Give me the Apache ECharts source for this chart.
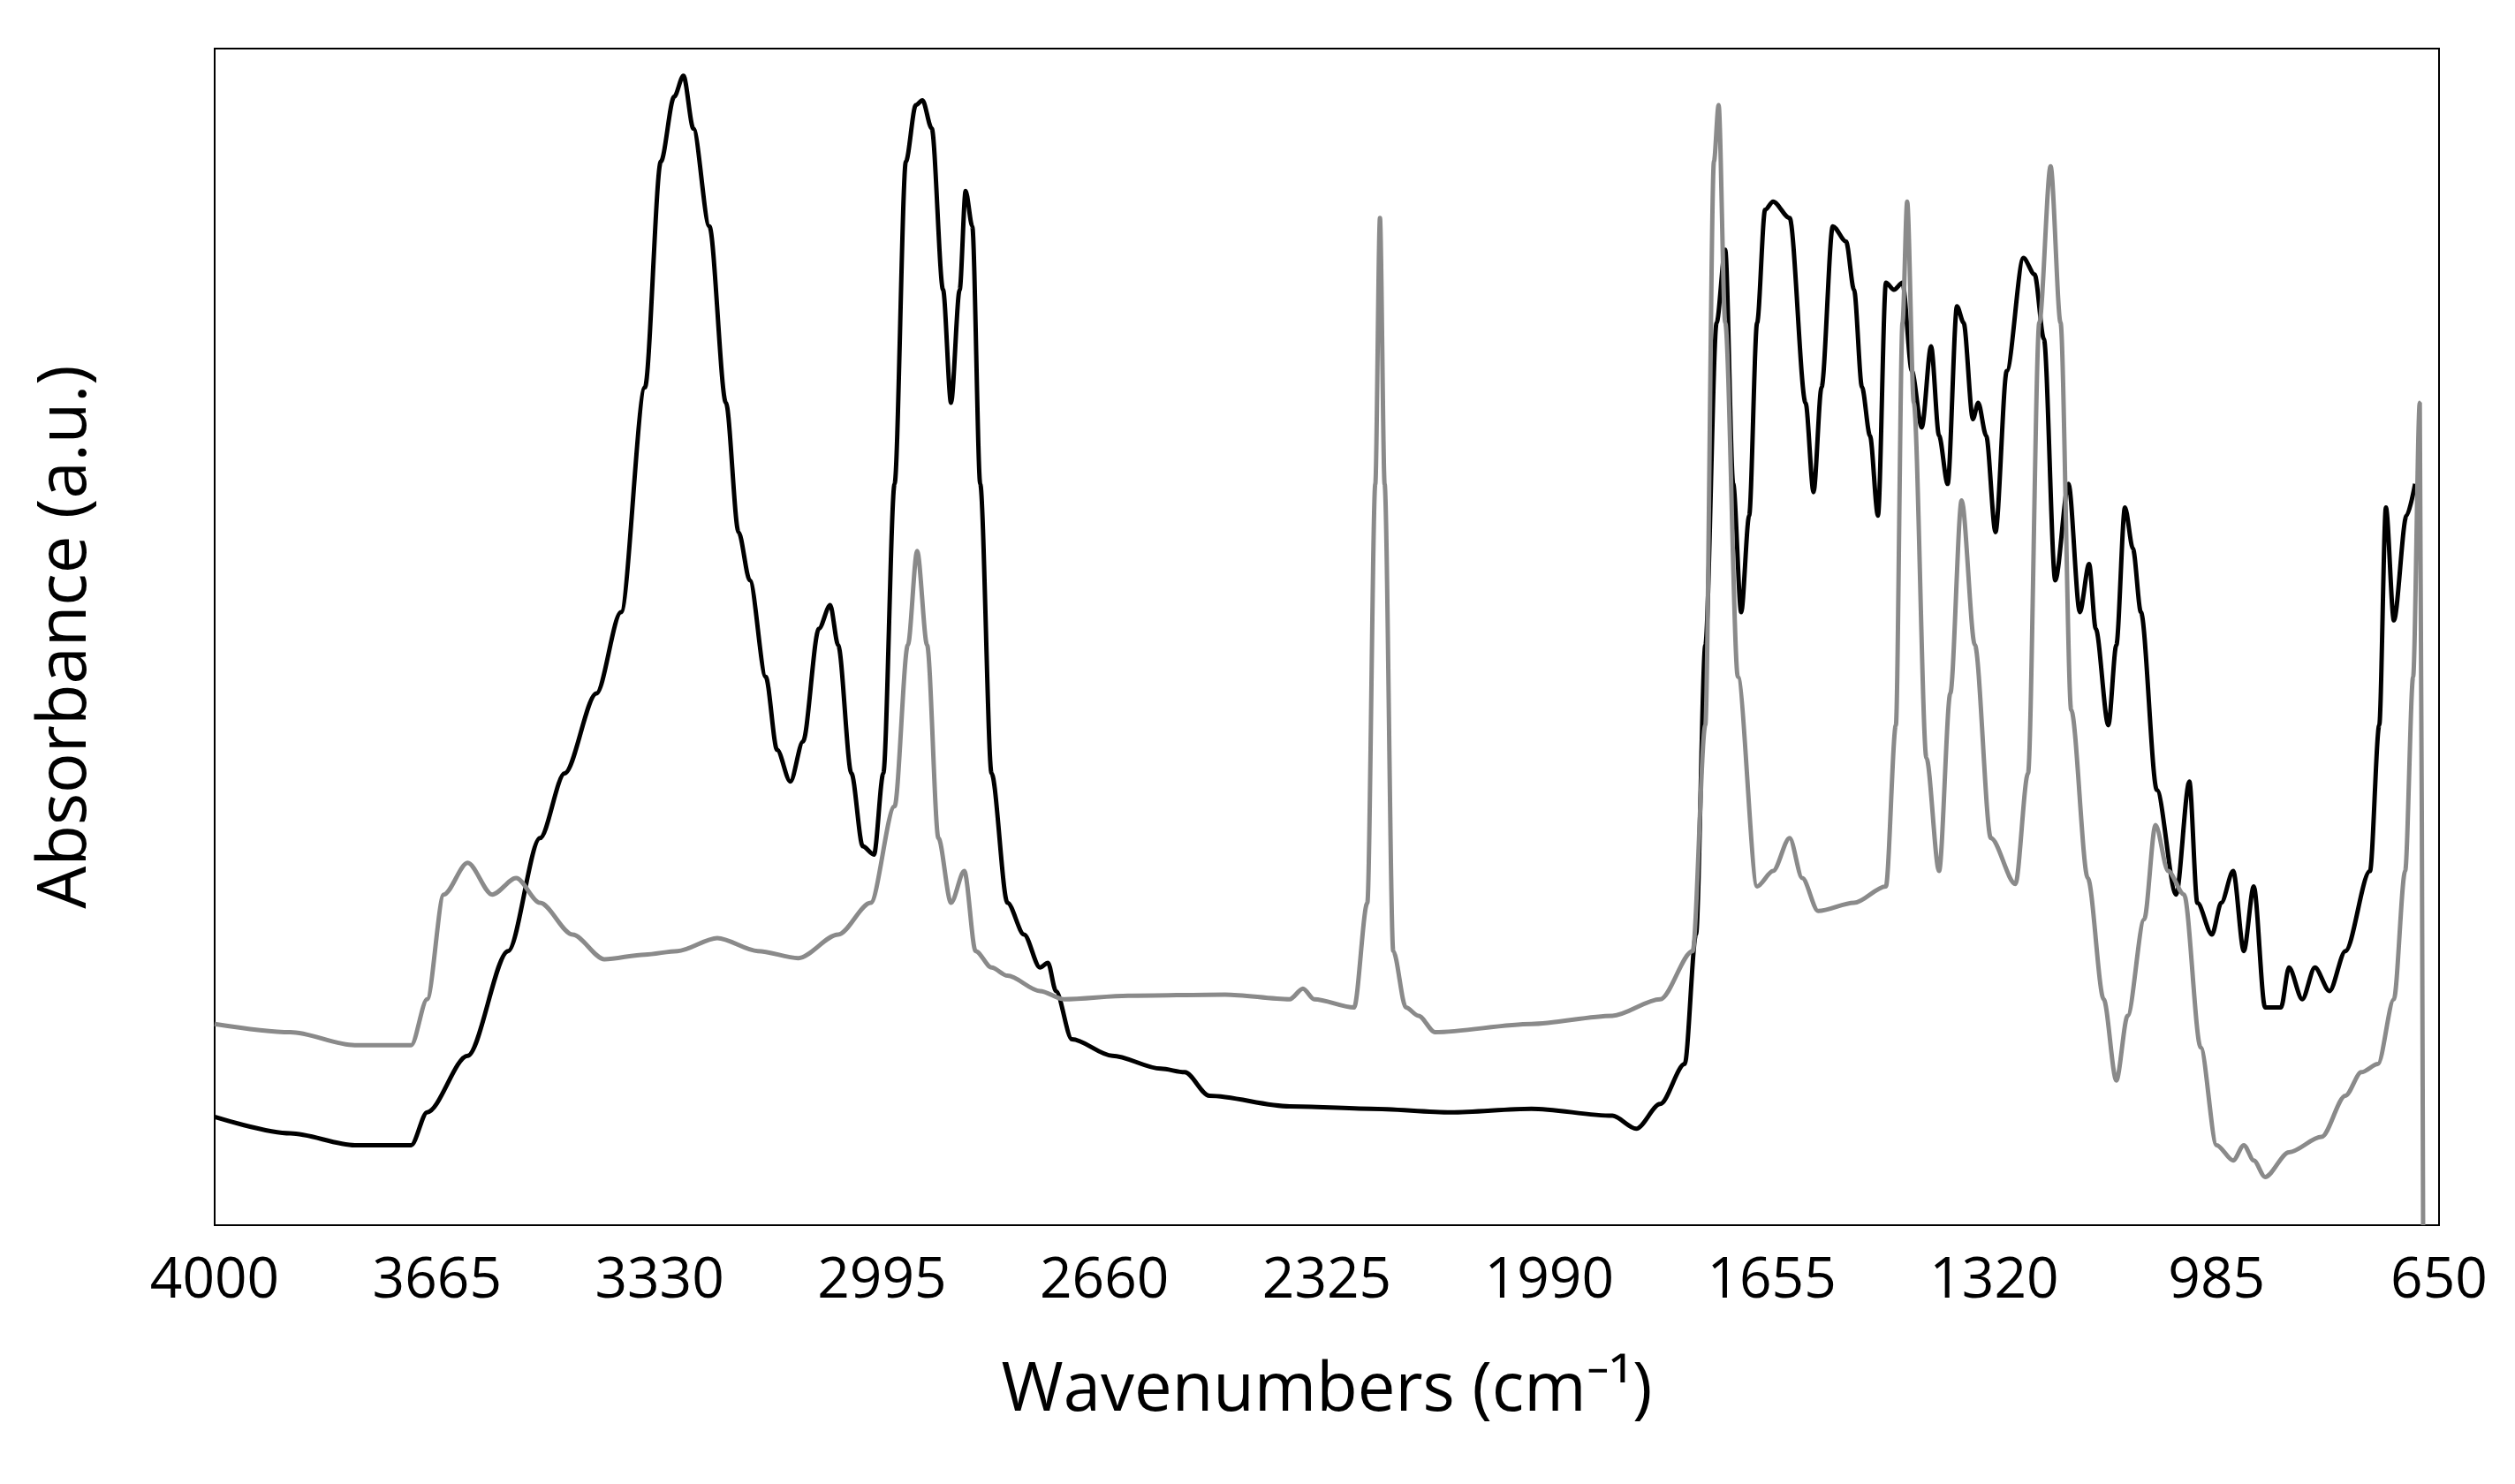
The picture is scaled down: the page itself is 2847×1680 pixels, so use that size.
<!DOCTYPE html>
<html>
<head>
<meta charset="utf-8">
<script src="https://cdn.jsdelivr.net/npm/echarts@6/dist/echarts.min.js"></script>
<style>html,body{margin:0;padding:0;background:#fff}#chart{width:2847px;height:1680px}</style>
</head>
<body>
<div id="chart"></div>
<script>
// wavenumber (cm-1), absorbance (a.u., 0-100 scale)
var blackWn = [4000,3886,3789,3704,3680,3619,3558,3510,3473,3425,3388,3352,3328,3308,3294,3279,3255,3230,3211,3194,3170,3153,3133,3114,3090,3073,3061,3041,3024,3007,2993,2976,2959,2944,2934,2920,2903,2891,2878,2869,2859,2847,2830,2806,2781,2757,2745,2733,2709,2648,2575,2539,2502,2381,2259,2138,2017,1895,1859,1823,1786,1769,1755,1738,1725,1713,1701,1689,1677,1665,1653,1628,1604,1592,1580,1563,1543,1531,1519,1507,1495,1483,1471,1458,1444,1429,1415,1403,1390,1376,1366,1352,1344,1332,1318,1301,1276,1259,1245,1228,1208,1191,1177,1167,1148,1136,1123,1111,1099,1075,1046,1026,1014,992,978,960,944,929,912,888,876,856,837,815,791,754,740,730,718,699,686];
var blackAbs = [9.2,7.8,6.8,6.8,9.6,14.4,23.3,32.9,38.4,45.2,52.1,71.2,90.4,95.9,97.7,93.2,84.9,69.9,58.9,54.8,46.6,40.4,37.7,41.1,50.7,52.7,49.3,38.4,32.2,31.5,38.4,63.0,90.4,95.2,95.6,93.2,79.5,69.9,79.5,87.9,84.9,63.0,38.4,27.4,24.7,21.9,22.3,19.9,15.8,14.4,13.3,13.0,11.0,10.1,9.9,9.6,9.9,9.3,8.2,10.3,13.7,24.7,49.3,76.7,82.9,63.0,52.1,60.3,76.7,86.3,87.0,85.6,69.9,62.3,71.2,84.9,83.6,79.5,71.2,67.1,60.3,80.1,79.5,80.1,72.6,67.8,74.7,67.1,63.0,78.1,76.7,68.5,69.9,67.1,58.9,72.6,82.2,80.8,75.3,54.8,63.0,52.1,56.2,50.7,42.5,49.3,61.0,57.5,52.1,37.0,28.1,37.7,27.4,24.7,27.4,30.1,23.3,28.8,18.5,18.5,21.9,19.2,21.9,19.9,23.3,30.1,42.5,61.0,51.4,60.3,63.0];
var grayWn = [4000,3886,3789,3704,3680,3655,3619,3582,3546,3510,3461,3413,3352,3303,3243,3182,3121,3061,3012,2976,2956,2942,2927,2910,2891,2871,2854,2830,2806,2757,2721,2624,2478,2381,2361,2344,2284,2264,2252,2245,2238,2225,2206,2187,2162,2017,1895,1823,1774,1755,1742,1735,1725,1706,1677,1653,1628,1609,1585,1531,1483,1468,1458,1451,1441,1422,1403,1386,1369,1349,1325,1288,1269,1252,1235,1220,1204,1179,1155,1136,1119,1094,1077,1058,1034,1009,985,960,944,929,912,876,827,791,767,742,718,701,689,679,674];
var grayAbs = [17.1,16.4,15.3,15.3,19.2,28.1,30.8,28.1,29.5,27.4,24.7,22.6,23.0,23.3,24.4,23.3,22.7,24.7,27.4,35.6,49.3,57.3,49.3,32.9,27.4,30.1,23.3,21.9,21.2,19.9,19.2,19.5,19.6,19.2,20.1,19.2,18.5,27.4,63.0,85.6,63.0,23.3,18.5,17.8,16.4,17.1,17.8,19.2,23.3,42.5,90.4,95.2,76.7,46.6,28.8,30.1,32.9,29.5,26.7,27.4,28.8,42.5,76.7,87.0,69.9,39.7,30.1,45.2,61.6,49.3,32.9,29.0,38.4,76.7,90.0,76.7,43.8,29.5,19.2,12.3,17.8,26.0,34.0,30.1,28.1,15.1,6.8,5.5,6.8,5.5,4.1,6.2,7.5,11.0,13.0,13.7,19.2,30.1,46.6,69.9,0];
var xTicks = [4000,3665,3330,2995,2660,2325,1990,1655,1320,985,650];

function pairs(wn, ab) {
    return wn.map(function (w, i) { return [w, ab[i]]; });
}

var chart = echarts.init(document.getElementById('chart'));
chart.setOption({
    animation: false,
    grid: {left: 243, right: 86, top: 55, bottom: 293, show: true, borderColor: '#000', borderWidth: 2},
    xAxis: {
        type: 'value', inverse: true, min: 650, max: 4000, interval: 335,
        name: 'Wavenumbers (cm\u207B\u00B9)', nameLocation: 'middle', nameGap: 150,
        nameTextStyle: {fontFamily: 'Open Sans', fontSize: 76, color: '#000'},
        axisLine: {show: true, lineStyle: {color: '#000', width: 2}},
        axisTick: {show: false},
        splitLine: {show: false},
        axisLabel: {fontFamily: 'Open Sans', fontSize: 64, color: '#000', margin: 32,
            formatter: function (v) { return xTicks.indexOf(v) >= 0 ? String(v) : ''; }}
    },
    yAxis: {
        type: 'value', min: 0, max: 100,
        name: 'Absorbance (a.u.)', nameLocation: 'middle', nameGap: 130,
        nameTextStyle: {fontFamily: 'Open Sans', fontSize: 76, color: '#000'},
        axisLine: {show: true, lineStyle: {color: '#000', width: 2}},
        axisTick: {show: false}, axisLabel: {show: false}, splitLine: {show: false}
    },
    series: [
        {type: 'line', data: pairs(blackWn, blackAbs), showSymbol: false, symbol: 'none',
            smooth: 0.3, smoothMonotone: 'x', lineStyle: {color: '#000', width: 5}},
        {type: 'line', data: pairs(grayWn, grayAbs), showSymbol: false, symbol: 'none',
            smooth: 0.3, smoothMonotone: 'x', lineStyle: {color: '#8a8a8a', width: 5}}
    ]
});
</script>
</body>
</html>
